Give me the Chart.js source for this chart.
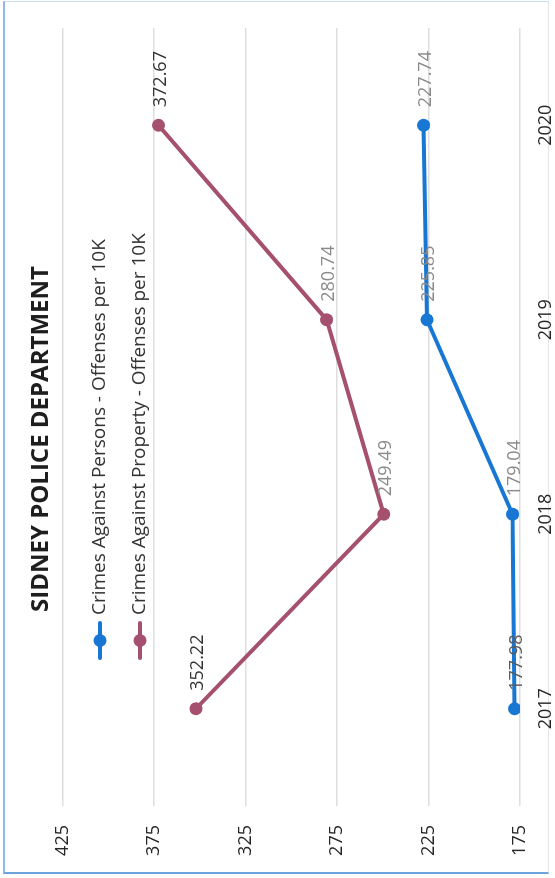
<!DOCTYPE html>
<html>
<head>
<meta charset="utf-8">
<script src="https://cdn.jsdelivr.net/npm/chart.js@4.4.1/dist/chart.umd.min.js"></script>
<style>
  html, body { margin: 0; padding: 0; background: #ffffff; overflow: hidden; }
  body { width: 555px; height: 878px; position: relative; }
  #frame { position: absolute; left: 3px; top: 1px; width: 546px; height: 873px;
           border-left: 2px solid #8dbbe6; border-bottom: 2px solid #6fa3dc;
           border-top: 1px solid #c5dcf2; border-right: 1px solid #e2e6ea; box-sizing: border-box; }
  #wrap { position: absolute; left: 0; top: 0; width: 878px; height: 555px;
          transform-origin: 0 0; transform: translate(0px, 878px) rotate(-90deg); }
</style>
</head>
<body>
<div id="frame"></div>
<div id="wrap"><canvas id="c" width="878" height="555"></canvas></div>
<script>
const years = ['2017', '2018', '2019', '2020'];
const personsLabel = 'Crimes Against Persons - Offenses per 10K';
const propertyLabel = 'Crimes Against Property - Offenses per 10K';
const personsValues = [177.98, 179.04, 225.85, 227.74];
const propertyValues = [352.22, 249.49, 280.74, 372.67];
const valueTicks = [175, 225, 275, 325, 375, 425];
const chartTitle = 'SIDNEY POLICE DEPARTMENT';

const BLUE = '#1877d3';
const MAUVE = '#a5506f';
const FONT = "'Open Sans', 'Liberation Sans', sans-serif";
const labelColors = [
  ['#5a5a5a', '#8a8a8a', '#8a8a8a', '#8a8a8a'],
  ['#333333', '#8a8a8a', '#8a8a8a', '#333333']
];

const valueLabels = {
  id: 'valueLabels',
  afterDatasetsDraw(chart) {
    const ctx = chart.ctx;
    ctx.save();
    ctx.font = '18px ' + FONT;
    ctx.textAlign = 'left';
    ctx.textBaseline = 'middle';
    chart.data.datasets.forEach((ds, di) => {
      const meta = chart.getDatasetMeta(di);
      meta.data.forEach((pt, i) => {
        ctx.fillStyle = labelColors[di][i];
        ctx.fillText(ds.data[i].toFixed(2), pt.x + 18, pt.y + 2);
      });
    });
    ctx.restore();
  }
};

const overlayLegend = {
  id: 'overlayLegend',
  afterDraw(chart) {
    const ctx = chart.ctx;
    ctx.save();
    ctx.font = '19px ' + FONT;
    ctx.textAlign = 'left';
    ctx.textBaseline = 'middle';
    const x0 = 218;
    const rows = [100, 140];
    chart.data.datasets.forEach((ds, di) => {
      const y = rows[di];
      ctx.strokeStyle = ds.borderColor;
      ctx.lineWidth = 4;
      ctx.lineCap = 'round';
      ctx.beginPath();
      ctx.moveTo(x0 + 2, y);
      ctx.lineTo(x0 + 37, y);
      ctx.stroke();
      ctx.fillStyle = ds.backgroundColor;
      ctx.beginPath();
      ctx.arc(x0 + 19.5, y, 6.5, 0, Math.PI * 2);
      ctx.fill();
      ctx.fillStyle = '#333333';
      ctx.fillText(ds.label, x0 + 45, y);
    });
    ctx.restore();
  }
};

new Chart(document.getElementById('c'), {
  type: 'line',
  data: {
    labels: years,
    datasets: [
      { label: personsLabel, data: personsValues, borderColor: BLUE, backgroundColor: BLUE,
        borderWidth: 4, pointRadius: 6.5, pointHoverRadius: 6.5, pointBorderWidth: 0, tension: 0 },
      { label: propertyLabel, data: propertyValues, borderColor: MAUVE, backgroundColor: MAUVE,
        borderWidth: 4, pointRadius: 6.5, pointHoverRadius: 6.5, pointBorderWidth: 0, tension: 0 }
    ]
  },
  options: {
    responsive: false,
    animation: false,
    devicePixelRatio: 1,
    layout: { padding: 0 },
    plugins: {
      legend: { display: false },
      tooltip: { enabled: false },
      title: {
        display: true, text: chartTitle, color: '#1e1e1e',
        font: { family: FONT, size: 24, weight: 'bold' },
        padding: { top: 27, bottom: 7 }
      }
    },
    scales: {
      x: {
        offset: true,
        afterFit: (axis) => { axis.height = 35; },
        grid: { display: false, drawTicks: false },
        border: { display: false },
        ticks: { color: '#262626', font: { family: FONT, size: 18 }, padding: 15 }
      },
      y: {
        min: valueTicks[0], max: valueTicks[valueTicks.length - 1],
        afterBuildTicks: (axis) => { axis.ticks = valueTicks.map(v => ({ value: v })); },
        afterFit: (axis) => { axis.width = 72; },
        grid: { color: '#dedede', lineWidth: 1.5, drawTicks: false },
        border: { display: false },
        ticks: { color: '#262626', font: { family: FONT, size: 18 }, padding: 19 }
      },
      yRight: {
        position: 'right',
        display: true,
        afterFit: (axis) => { axis.width = 28; },
        grid: { display: false, drawTicks: false },
        border: { display: false },
        ticks: { display: false }
      }
    }
  },
  plugins: [valueLabels, overlayLegend]
});
</script>
</body>
</html>
